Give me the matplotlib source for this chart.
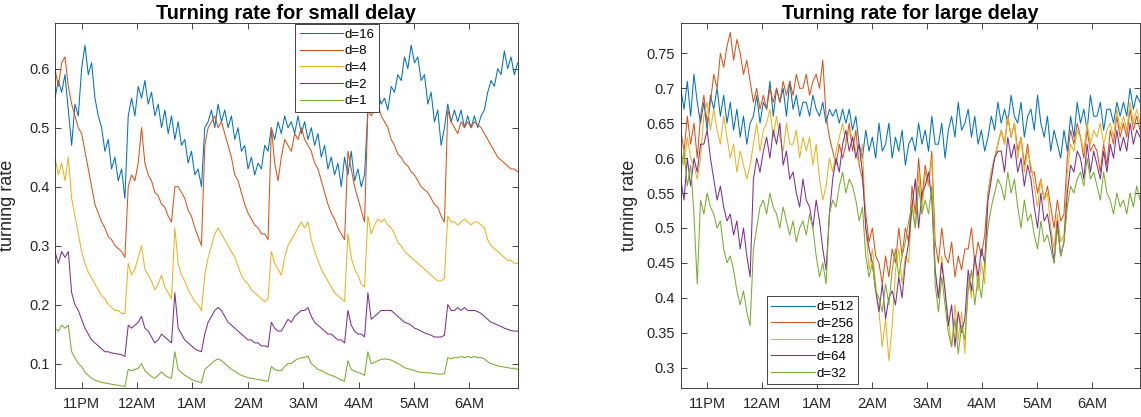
import numpy as np
import matplotlib
matplotlib.use("Agg")
import matplotlib.pyplot as plt

plt.rcParams['font.family'] = ['Liberation Sans', 'DejaVu Sans']

# time axis (hours after previous midnight; 24 = 12AM)
t_start, t_end, n_pts = 22.52, 30.87, 140
hour_ticks = [23, 24, 25, 26, 27, 28, 29, 30]
hour_labels = ['11PM', '12AM', '1AM', '2AM', '3AM', '4AM', '5AM', '6AM']

small_labels = ['d=16', 'd=8', 'd=4', 'd=2', 'd=1']
large_labels = ['d=512', 'd=256', 'd=128', 'd=64', 'd=32']

d16 = [0.55, 0.58, 0.56, 0.59, 0.53, 0.47, 0.54, 0.52, 0.60, 0.64,
       0.59, 0.61, 0.55, 0.52, 0.50, 0.46, 0.48, 0.43, 0.45, 0.41,
       0.43, 0.38, 0.52, 0.55, 0.52, 0.57, 0.55, 0.58, 0.54, 0.56,
       0.52, 0.54, 0.50, 0.53, 0.49, 0.52, 0.48, 0.51, 0.47, 0.48,
       0.44, 0.46, 0.42, 0.43, 0.40, 0.50, 0.51, 0.53, 0.50, 0.54,
       0.51, 0.53, 0.50, 0.52, 0.48, 0.50, 0.46, 0.47, 0.43, 0.45,
       0.42, 0.44, 0.43, 0.47, 0.46, 0.50, 0.48, 0.51, 0.49, 0.52,
       0.50, 0.51, 0.49, 0.52, 0.49, 0.51, 0.48, 0.50, 0.47, 0.49,
       0.45, 0.47, 0.43, 0.45, 0.42, 0.44, 0.40, 0.45, 0.42, 0.46,
       0.41, 0.43, 0.40, 0.42, 0.53, 0.55, 0.53, 0.56, 0.54, 0.55,
       0.53, 0.57, 0.56, 0.59, 0.58, 0.62, 0.60, 0.64, 0.61, 0.62,
       0.58, 0.59, 0.54, 0.56, 0.51, 0.53, 0.47, 0.50, 0.54, 0.51,
       0.53, 0.51, 0.53, 0.50, 0.52, 0.50, 0.52, 0.50, 0.52, 0.53,
       0.56, 0.58, 0.57, 0.60, 0.59, 0.63, 0.60, 0.62, 0.59, 0.61]
d8 = [0.60, 0.57, 0.61, 0.62, 0.57, 0.54, 0.52, 0.50, 0.49, 0.46,
      0.43, 0.40, 0.37, 0.355, 0.34, 0.33, 0.315, 0.31, 0.30, 0.295,
      0.29, 0.28, 0.40, 0.42, 0.41, 0.44, 0.50, 0.44, 0.42, 0.41,
      0.39, 0.385, 0.37, 0.365, 0.35, 0.34, 0.40, 0.40, 0.39, 0.38,
      0.36, 0.35, 0.33, 0.315, 0.30, 0.47, 0.50, 0.51, 0.52, 0.50,
      0.51, 0.49, 0.47, 0.45, 0.42, 0.41, 0.39, 0.37, 0.355, 0.345,
      0.335, 0.33, 0.32, 0.32, 0.31, 0.50, 0.44, 0.41, 0.45, 0.48,
      0.47, 0.46, 0.49, 0.48, 0.50, 0.48, 0.47, 0.46, 0.44, 0.43,
      0.41, 0.39, 0.37, 0.355, 0.345, 0.33, 0.32, 0.31, 0.46, 0.43,
      0.40, 0.38, 0.36, 0.34, 0.53, 0.52, 0.53, 0.54, 0.52, 0.51,
      0.50, 0.48, 0.47, 0.455, 0.45, 0.44, 0.435, 0.425, 0.42, 0.41,
      0.40, 0.395, 0.39, 0.38, 0.37, 0.365, 0.35, 0.34, 0.53, 0.51,
      0.50, 0.49, 0.51, 0.50, 0.51, 0.50, 0.51, 0.505, 0.50, 0.49,
      0.48, 0.47, 0.46, 0.45, 0.445, 0.44, 0.435, 0.43, 0.43, 0.425]
d4 = [0.45, 0.42, 0.44, 0.41, 0.45, 0.38, 0.35, 0.32, 0.29, 0.27,
      0.255, 0.245, 0.235, 0.225, 0.215, 0.21, 0.20, 0.195, 0.19, 0.19,
      0.185, 0.185, 0.27, 0.25, 0.26, 0.28, 0.30, 0.26, 0.25, 0.24,
      0.225, 0.235, 0.25, 0.23, 0.22, 0.21, 0.33, 0.27, 0.25, 0.24,
      0.225, 0.215, 0.205, 0.20, 0.19, 0.25, 0.28, 0.30, 0.32, 0.33,
      0.32, 0.31, 0.30, 0.29, 0.28, 0.265, 0.25, 0.24, 0.235, 0.225,
      0.22, 0.215, 0.21, 0.205, 0.21, 0.29, 0.27, 0.26, 0.25, 0.28,
      0.30, 0.31, 0.32, 0.33, 0.34, 0.33, 0.34, 0.31, 0.29, 0.275,
      0.26, 0.25, 0.24, 0.23, 0.22, 0.215, 0.21, 0.205, 0.32, 0.28,
      0.26, 0.25, 0.235, 0.23, 0.35, 0.32, 0.335, 0.345, 0.34, 0.345,
      0.335, 0.33, 0.32, 0.305, 0.30, 0.29, 0.285, 0.28, 0.275, 0.27,
      0.265, 0.26, 0.255, 0.25, 0.245, 0.24, 0.24, 0.245, 0.35, 0.34,
      0.34, 0.335, 0.34, 0.345, 0.34, 0.335, 0.34, 0.34, 0.335, 0.33,
      0.31, 0.30, 0.295, 0.29, 0.285, 0.28, 0.275, 0.275, 0.27, 0.27]
d2 = [0.29, 0.27, 0.29, 0.28, 0.29, 0.22, 0.20, 0.19, 0.175, 0.16,
      0.15, 0.14, 0.135, 0.13, 0.125, 0.12, 0.12, 0.118, 0.117, 0.116,
      0.115, 0.112, 0.165, 0.16, 0.165, 0.17, 0.18, 0.16, 0.155, 0.145,
      0.135, 0.14, 0.15, 0.145, 0.14, 0.135, 0.22, 0.16, 0.15, 0.14,
      0.135, 0.13, 0.125, 0.122, 0.12, 0.15, 0.17, 0.18, 0.19, 0.195,
      0.19, 0.18, 0.17, 0.165, 0.16, 0.155, 0.15, 0.145, 0.14, 0.14,
      0.135, 0.135, 0.13, 0.13, 0.128, 0.17, 0.16, 0.155, 0.155, 0.165,
      0.175, 0.17, 0.18, 0.185, 0.19, 0.19, 0.195, 0.18, 0.17, 0.165,
      0.16, 0.155, 0.15, 0.15, 0.145, 0.14, 0.14, 0.135, 0.19, 0.165,
      0.155, 0.15, 0.15, 0.145, 0.22, 0.175, 0.18, 0.185, 0.19, 0.19,
      0.19, 0.19, 0.185, 0.18, 0.175, 0.17, 0.168, 0.165, 0.16, 0.158,
      0.155, 0.152, 0.15, 0.148, 0.145, 0.145, 0.145, 0.148, 0.20, 0.19,
      0.19, 0.195, 0.19, 0.195, 0.19, 0.19, 0.19, 0.188, 0.185, 0.18,
      0.175, 0.17, 0.168, 0.165, 0.163, 0.16, 0.158, 0.156, 0.155, 0.155]
d1 = [0.16, 0.155, 0.165, 0.16, 0.165, 0.12, 0.11, 0.10, 0.095, 0.085,
      0.08, 0.075, 0.072, 0.07, 0.068, 0.067, 0.066, 0.065, 0.064, 0.063,
      0.062, 0.061, 0.09, 0.088, 0.09, 0.092, 0.10, 0.088, 0.083, 0.078,
      0.075, 0.08, 0.086, 0.08, 0.077, 0.075, 0.12, 0.09, 0.085, 0.08,
      0.077, 0.073, 0.071, 0.069, 0.067, 0.09, 0.095, 0.10, 0.105, 0.108,
      0.105, 0.10, 0.095, 0.09, 0.087, 0.083, 0.08, 0.078, 0.076, 0.075,
      0.074, 0.073, 0.072, 0.071, 0.07, 0.095, 0.09, 0.088, 0.088, 0.095,
      0.10, 0.10, 0.105, 0.108, 0.11, 0.11, 0.113, 0.10, 0.095, 0.09,
      0.088, 0.085, 0.082, 0.08, 0.078, 0.075, 0.072, 0.07, 0.105, 0.09,
      0.087, 0.085, 0.083, 0.08, 0.12, 0.10, 0.102, 0.105, 0.107, 0.108,
      0.107, 0.106, 0.103, 0.10, 0.097, 0.093, 0.091, 0.09, 0.088, 0.086,
      0.085, 0.085, 0.084, 0.084, 0.083, 0.082, 0.082, 0.083, 0.11, 0.108,
      0.11, 0.11, 0.112, 0.11, 0.112, 0.11, 0.112, 0.11, 0.11, 0.108,
      0.103, 0.10, 0.098, 0.096, 0.095, 0.094, 0.093, 0.092, 0.092, 0.09]

d512 = [0.70, 0.67, 0.71, 0.66, 0.72, 0.68, 0.65, 0.68, 0.64, 0.69,
        0.67, 0.70, 0.66, 0.69, 0.65, 0.68, 0.64, 0.67, 0.63, 0.66,
        0.62, 0.65, 0.66, 0.69, 0.65, 0.68, 0.67, 0.71, 0.66, 0.70,
        0.68, 0.70, 0.66, 0.71, 0.67, 0.69, 0.66, 0.68, 0.68, 0.66,
        0.69, 0.67, 0.66, 0.68, 0.65, 0.67, 0.66, 0.67, 0.65, 0.67,
        0.65, 0.67, 0.64, 0.66, 0.62, 0.60, 0.64, 0.61, 0.63, 0.60,
        0.65, 0.61, 0.62, 0.65, 0.60, 0.63, 0.61, 0.64, 0.59, 0.62,
        0.63, 0.61, 0.65, 0.62, 0.64, 0.61, 0.66, 0.62, 0.62, 0.65,
        0.60, 0.64, 0.66, 0.63, 0.68, 0.64, 0.65, 0.67, 0.63, 0.66,
        0.62, 0.64, 0.61, 0.63, 0.66, 0.64, 0.68, 0.65, 0.67, 0.65,
        0.69, 0.66, 0.65, 0.68, 0.63, 0.66, 0.67, 0.64, 0.69, 0.65,
        0.63, 0.66, 0.61, 0.64, 0.62, 0.60, 0.64, 0.61, 0.66, 0.63,
        0.68, 0.65, 0.67, 0.64, 0.69, 0.66, 0.66, 0.68, 0.64, 0.67,
        0.67, 0.65, 0.68, 0.66, 0.68, 0.66, 0.70, 0.67, 0.69, 0.68]
d256 = [0.64, 0.61, 0.66, 0.62, 0.65, 0.60, 0.66, 0.69, 0.65, 0.68,
        0.72, 0.70, 0.75, 0.73, 0.76, 0.78, 0.74, 0.77, 0.75, 0.72,
        0.74, 0.71, 0.68, 0.70, 0.67, 0.69, 0.67, 0.70, 0.68, 0.70,
        0.68, 0.71, 0.69, 0.71, 0.69, 0.72, 0.70, 0.70, 0.72, 0.69,
        0.71, 0.72, 0.70, 0.74, 0.66, 0.63, 0.61, 0.59, 0.62, 0.60,
        0.62, 0.65, 0.61, 0.64, 0.59, 0.57, 0.52, 0.48, 0.50, 0.46,
        0.45, 0.42, 0.46, 0.43, 0.47, 0.45, 0.50, 0.46, 0.50, 0.48,
        0.56, 0.52, 0.60, 0.54, 0.59, 0.56, 0.61, 0.48, 0.45, 0.50,
        0.46, 0.45, 0.48, 0.43, 0.46, 0.44, 0.47, 0.47, 0.50, 0.45,
        0.48, 0.46, 0.49, 0.55, 0.58, 0.60, 0.62, 0.64, 0.62, 0.66,
        0.63, 0.65, 0.61, 0.63, 0.59, 0.62, 0.58, 0.58, 0.55, 0.57,
        0.54, 0.56, 0.53, 0.50, 0.54, 0.51, 0.52, 0.60, 0.64, 0.62,
        0.65, 0.63, 0.60, 0.64, 0.61, 0.62, 0.61, 0.58, 0.62, 0.59,
        0.64, 0.62, 0.66, 0.63, 0.65, 0.63, 0.67, 0.64, 0.66, 0.64]
d128 = [0.61, 0.59, 0.63, 0.60, 0.59, 0.57, 0.60, 0.66, 0.68, 0.64,
        0.67, 0.64, 0.62, 0.66, 0.63, 0.60, 0.62, 0.58, 0.61, 0.59,
        0.57, 0.59, 0.62, 0.65, 0.61, 0.64, 0.65, 0.67, 0.63, 0.66,
        0.63, 0.61, 0.65, 0.62, 0.62, 0.64, 0.60, 0.63, 0.61, 0.63,
        0.59, 0.62, 0.57, 0.54, 0.56, 0.60, 0.58, 0.61, 0.63, 0.65,
        0.62, 0.64, 0.63, 0.61, 0.59, 0.62, 0.50, 0.44, 0.47, 0.42,
        0.38, 0.33, 0.37, 0.31, 0.36, 0.44, 0.47, 0.42, 0.46, 0.45,
        0.54, 0.50, 0.58, 0.52, 0.58, 0.56, 0.60, 0.44, 0.40, 0.46,
        0.41, 0.37, 0.33, 0.39, 0.34, 0.38, 0.32, 0.43, 0.40, 0.46,
        0.41, 0.45, 0.42, 0.55, 0.58, 0.60, 0.62, 0.64, 0.62, 0.66,
        0.63, 0.65, 0.60, 0.63, 0.58, 0.61, 0.59, 0.56, 0.53, 0.57,
        0.54, 0.55, 0.50, 0.47, 0.52, 0.48, 0.49, 0.58, 0.62, 0.61,
        0.64, 0.63, 0.61, 0.65, 0.62, 0.64, 0.63, 0.65, 0.62, 0.64,
        0.65, 0.63, 0.67, 0.64, 0.66, 0.64, 0.68, 0.65, 0.67, 0.65]
d64 = [0.57, 0.54, 0.60, 0.56, 0.60, 0.58, 0.62, 0.62, 0.64, 0.60,
       0.57, 0.54, 0.56, 0.53, 0.51, 0.52, 0.49, 0.51, 0.47, 0.50,
       0.46, 0.43, 0.57, 0.60, 0.58, 0.61, 0.63, 0.60, 0.64, 0.62,
       0.65, 0.59, 0.61, 0.57, 0.58, 0.55, 0.53, 0.57, 0.54, 0.53,
       0.50, 0.54, 0.51, 0.47, 0.44, 0.52, 0.57, 0.60, 0.58, 0.62,
       0.64, 0.61, 0.63, 0.60, 0.62, 0.58, 0.50, 0.47, 0.45, 0.41,
       0.38, 0.42, 0.37, 0.40, 0.41, 0.39, 0.43, 0.40, 0.45, 0.48,
       0.53, 0.57, 0.50, 0.55, 0.56, 0.58, 0.54, 0.44, 0.40, 0.45,
       0.41, 0.36, 0.39, 0.33, 0.38, 0.35, 0.37, 0.44, 0.41, 0.46,
       0.43, 0.47, 0.45, 0.54, 0.57, 0.60, 0.61, 0.61, 0.58, 0.63,
       0.60, 0.62, 0.58, 0.60, 0.56, 0.59, 0.57, 0.53, 0.50, 0.55,
       0.51, 0.52, 0.49, 0.45, 0.51, 0.46, 0.48, 0.55, 0.59, 0.58,
       0.61, 0.60, 0.57, 0.62, 0.58, 0.61, 0.59, 0.57, 0.61, 0.58,
       0.62, 0.60, 0.64, 0.61, 0.63, 0.61, 0.65, 0.62, 0.64, 0.63]
d32 = [0.58, 0.61, 0.56, 0.59, 0.52, 0.42, 0.54, 0.52, 0.55, 0.53,
       0.52, 0.50, 0.51, 0.47, 0.45, 0.46, 0.44, 0.41, 0.39, 0.41,
       0.38, 0.36, 0.47, 0.50, 0.53, 0.54, 0.52, 0.55, 0.53, 0.52,
       0.50, 0.53, 0.51, 0.49, 0.51, 0.48, 0.50, 0.51, 0.49, 0.52,
       0.50, 0.46, 0.43, 0.45, 0.42, 0.52, 0.54, 0.53, 0.56, 0.58,
       0.55, 0.57, 0.56, 0.54, 0.51, 0.53, 0.46, 0.43, 0.45, 0.41,
       0.40, 0.38, 0.42, 0.39, 0.44, 0.47, 0.43, 0.46, 0.48, 0.51,
       0.53, 0.50, 0.56, 0.52, 0.54, 0.52, 0.56, 0.42, 0.38, 0.43,
       0.39, 0.35, 0.33, 0.37, 0.32, 0.36, 0.34, 0.41, 0.44, 0.39,
       0.43, 0.40, 0.45, 0.50, 0.53, 0.55, 0.57, 0.56, 0.54, 0.58,
       0.55, 0.57, 0.53, 0.50, 0.54, 0.51, 0.52, 0.49, 0.47, 0.51,
       0.48, 0.49, 0.47, 0.45, 0.50, 0.46, 0.48, 0.53, 0.56, 0.55,
       0.57, 0.58, 0.56, 0.60, 0.57, 0.58, 0.56, 0.54, 0.58, 0.55,
       0.54, 0.52, 0.55, 0.53, 0.54, 0.52, 0.55, 0.53, 0.56, 0.54]

colors = ['#0072BD', '#D95319', '#EDB120', '#7E2F8E', '#77AC30']
axis_color = '#262626'

times = np.linspace(t_start, t_end, n_pts)

fig = plt.figure(figsize=(11.41, 4.17), dpi=100)
ax1 = fig.add_axes([0.0482, 0.0688, 0.4055, 0.8753])
ax2 = fig.add_axes([0.5966, 0.0688, 0.4025, 0.8753])


def style(ax, ylim, yticks, ylabels, title):
    ax.set_xlim(t_start, t_end)
    ax.set_ylim(*ylim)
    ax.set_xticks(hour_ticks)
    ax.set_xticklabels(hour_labels)
    ax.set_yticks(yticks)
    ax.set_yticklabels(ylabels)
    ax.tick_params(direction='in', top=True, right=True, length=4, width=0.6,
                   colors=axis_color, labelsize=10.5)
    ax.tick_params(axis='x', pad=6)
    ax.tick_params(axis='y', pad=4)
    for sp in ax.spines.values():
        sp.set_color(axis_color)
        sp.set_linewidth(0.6)
    ax.set_ylabel('turning rate', fontsize=13, color=axis_color)
    ax.set_title(title, fontsize=14.3, fontweight='bold', pad=3)


for vals, lab, c in zip([d16, d8, d4, d2, d1], small_labels, colors):
    ax1.plot(times, vals, color=c, lw=0.75, label=lab)
for vals, lab, c in zip([d512, d256, d128, d64, d32], large_labels, colors):
    ax2.plot(times, vals, color=c, lw=0.75, label=lab)

style(ax1, (0.058, 0.677), [0.1, 0.2, 0.3, 0.4, 0.5, 0.6],
      ['0.1', '0.2', '0.3', '0.4', '0.5', '0.6'], 'Turning rate for small delay')
style(ax2, (0.2705, 0.793), [0.3, 0.35, 0.4, 0.45, 0.5, 0.55, 0.6, 0.65, 0.7, 0.75],
      ['0.3', '0.35', '0.4', '0.45', '0.5', '0.55', '0.6', '0.65', '0.7', '0.75'],
      'Turning rate for large delay')
ax1.yaxis.set_label_coords(-0.084, 0.5)
ax2.yaxis.set_label_coords(-0.093, 0.5)

for ax, loc, anchor in [(ax1, 'upper left', (0.519, 0.998)),
                        (ax2, 'lower left', (0.187, 0.011))]:
    leg = ax.legend(loc=loc, bbox_to_anchor=anchor, fontsize=9.5,
                    handlelength=3.3, handletextpad=0.12, labelspacing=0.33,
                    borderpad=0.35, borderaxespad=0.0, fancybox=False,
                    framealpha=1, edgecolor=axis_color, alignment='right')
    leg.get_frame().set_linewidth(0.6)

fig.savefig('out.png', dpi=100)
